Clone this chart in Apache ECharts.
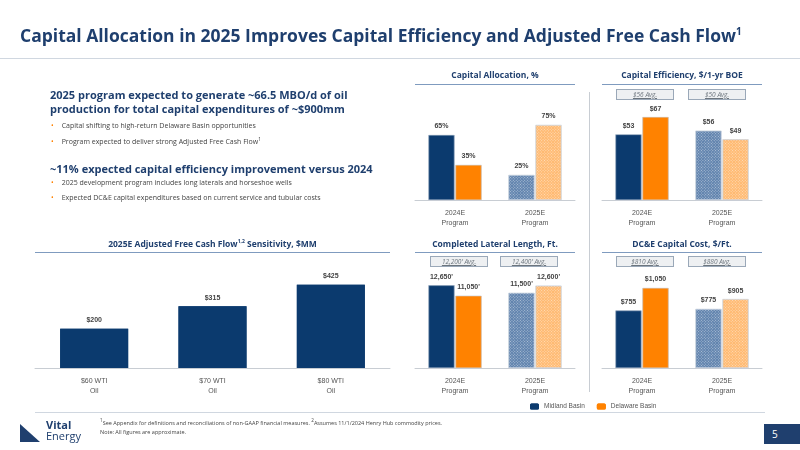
<!DOCTYPE html>
<html><head><meta charset="utf-8">
<script src="https://cdn.jsdelivr.net/npm/echarts@6/dist/echarts.min.js"></script>
<style>
body{margin:0;width:800px;height:450px;position:relative;font-family:"Open Sans","Noto Sans",sans-serif;background:#fff;overflow:hidden}
#c{position:absolute;left:0;top:0;width:800px;height:450px}
.t{position:absolute;white-space:nowrap}
.h{color:#1f3f6e;font-weight:bold}
.ct{font-size:8.5px;font-weight:bold;color:#1f3f6e;text-align:center}
.ln{position:absolute;height:1px;background:#7f9bbf}
.avg{position:absolute;border:1px solid #9aa8b8;background:#eef0f2;font-size:6.5px;font-style:italic;text-decoration:underline;color:#6c757d;text-align:center;height:9px;line-height:9px}
.b{font-size:7px;color:#444;}
.b span{color:#ff8200;margin-right:8px}
</style></head><body>
<div id="c"></div>
<div class="t h" style="left:20px;top:23px;font-size:17.5px">Capital Allocation in 2025 Improves Capital Efficiency and Adjusted Free Cash Flow<sup style="font-size:10px">1</sup></div>
<div class="ln" style="left:0;top:58px;width:800px;background:#d0d7e0"></div>
<div class="t h" style="left:50px;top:88px;font-size:11px;line-height:14px">2025 program expected to generate ~66.5 MBO/d of oil<br>production for total capital expenditures of ~$900mm</div>
<div class="t b" style="left:51px;top:121px"><span>•</span>Capital shifting to high-return Delaware Basin opportunities</div>
<div class="t b" style="left:51px;top:136px"><span>•</span>Program expected to deliver strong Adjusted Free Cash Flow<sup style="font-size:5px">1</sup></div>
<div class="t h" style="left:50px;top:161px;font-size:11px">~11% expected capital efficiency improvement versus 2024</div>
<div class="t b" style="left:51px;top:178px"><span>•</span>2025 development program includes long laterals and horseshoe wells</div>
<div class="t b" style="left:51px;top:193px"><span>•</span>Expected DC&amp;E capital expenditures based on current service and tubular costs</div>

<div class="t ct" style="left:415px;top:69px;width:160px">Capital Allocation, %</div>
<div class="ln" style="left:415px;top:84px;width:160px"></div>
<div class="t ct" style="left:602px;top:69px;width:160px">Capital Efficiency, $/1-yr BOE</div>
<div class="ln" style="left:602px;top:84px;width:160px"></div>
<div class="avg" style="left:616px;top:89px;width:56px">$56 Avg.</div>
<div class="avg" style="left:688px;top:89px;width:56px">$50 Avg.</div>

<div class="t ct" style="left:35px;top:238px;width:355px">2025E Adjusted Free Cash Flow<sup style="font-size:5px">1,2</sup> Sensitivity, $MM</div>
<div class="ln" style="left:35px;top:252px;width:355px"></div>
<div class="t ct" style="left:415px;top:238px;width:160px">Completed Lateral Length, Ft.</div>
<div class="ln" style="left:415px;top:252px;width:160px"></div>
<div class="avg" style="left:430px;top:256px;width:56px">12,200' Avg.</div>
<div class="avg" style="left:500px;top:256px;width:56px">12,400' Avg.</div>
<div class="t ct" style="left:602px;top:238px;width:160px">DC&amp;E Capital Cost, $/Ft.</div>
<div class="ln" style="left:602px;top:252px;width:160px"></div>
<div class="avg" style="left:616px;top:256px;width:56px">$810 Avg.</div>
<div class="avg" style="left:688px;top:256px;width:56px">$880 Avg.</div>

<div style="position:absolute;left:589px;top:92px;width:1px;height:300px;background:#c8cdd3"></div>
<div class="ln" style="left:35px;top:412px;width:730px;background:#d0d7e0"></div>
<div class="t" style="left:100px;top:416px;font-size:5.5px;color:#444;line-height:9px"><sup>1</sup>See Appendix for definitions and reconciliations of non-GAAP financial measures. <sup>2</sup>Assumes 11/1/2024 Henry Hub commodity prices.<br>Note: All figures are approximate.</div>
<div style="position:absolute;left:20px;top:424px;width:0;height:0;border-top:18px solid transparent;border-left:20px solid #1f3f6e"></div>
<div class="t" style="left:46px;top:419px;font-size:11px;line-height:11px;color:#1f3f6e;font-weight:bold">Vital<br><span style="font-weight:normal">Energy</span></div>
<div style="position:absolute;left:764px;top:424px;width:36px;height:20px;background:#1f3f6e;color:#fff;font-size:10px;line-height:20px;padding-left:8px;box-sizing:border-box">5</div>

<script>
var progCats = ['2024E\nProgram', '2025E\nProgram'];
var wtiCats = ['$60 WTI\nOil', '$70 WTI\nOil', '$80 WTI\nOil'];
var allocMidland = [65, 25], allocDelaware = [35, 75];
var effMidland = [53, 56], effDelaware = [67, 49];
var fcfValues = [200, 315, 425];
var latMidland = [12650, 11500], latDelaware = [11050, 12600];
var costMidland = [755, 775], costDelaware = [1050, 905];

var navy = '#0b3a6e', orange = '#ff8200';
var chart = echarts.init(document.getElementById('c'));

var grids = [
  { left: 415, width: 160, top: 100, height: 100 },
  { left: 602, width: 160, top: 101, height: 99 },
  { left: 35, width: 355, top: 270, height: 98 },
  { left: 415, width: 160, top: 270, height: 98 },
  { left: 602, width: 160, top: 269, height: 99 }
];
var maxes = [100, 80, 500, 15000, 1300];
var hatch = { symbol: 'rect', symbolSize: 1, color: 'rgba(255,255,255,0.5)', dashArrayX: [1, 1], dashArrayY: [1, 1], rotation: Math.PI / 4 };
function solid(c) { return { symbol: 'rect', symbolSize: 1, color: c, dashArrayX: [1, 0], dashArrayY: [1, 0] }; }

function styled(vals, base, light) {
  return vals.map(function (v, i) {
    var d = { value: v, itemStyle: { color: base, borderColor: '#c9d3df', borderWidth: 0.5, decal: solid(base) } };
    if (i === 1) {
      d.itemStyle.color = light;
      d.itemStyle.decal = hatch;
    }
    return d;
  });
}
var lbl = function (fmt) {
  return { show: true, position: 'top', fontSize: 7, fontWeight: 'bold', color: '#444', formatter: function (p) { return fmt(p.value); } };
};
var pct = function (v) { return v + '%'; };
var usd = function (v) { return '$' + v.toLocaleString('en-US'); };
var ft = function (v) { return v.toLocaleString('en-US') + "'"; };

var xAxes = [], yAxes = [], series = [];
grids.forEach(function (g, i) {
  xAxes.push({ type: 'category', gridIndex: i, data: i === 2 ? wtiCats : progCats,
    axisLine: { lineStyle: { color: '#c8cdd3' } }, axisTick: { show: false },
    axisLabel: { fontSize: 7, color: '#555', lineHeight: 10, margin: 8 } });
  yAxes.push({ type: 'value', gridIndex: i, min: 0, max: maxes[i], show: false, splitLine: { show: false } });
});
var pairs = [[allocMidland, allocDelaware, pct], [effMidland, effDelaware, usd], null, [latMidland, latDelaware, ft], [costMidland, costDelaware, usd]];
pairs.forEach(function (p, i) {
  if (!p) return;
  series.push({ name: 'Midland Basin', type: 'bar', xAxisIndex: i, yAxisIndex: i, barWidth: 26, barGap: '4%',
    itemStyle: { color: navy, decal: solid(navy) }, data: styled(p[0], navy, '#5f82ad'), label: lbl(p[2]) });
  series.push({ name: 'Delaware Basin', type: 'bar', xAxisIndex: i, yAxisIndex: i, barWidth: 26, barGap: '4%',
    itemStyle: { color: orange, decal: solid(orange) }, data: styled(p[1], orange, '#ffb970'), label: lbl(p[2]) });
});
series.push({ type: 'bar', xAxisIndex: 2, yAxisIndex: 2, barWidth: 68,
  itemStyle: { color: navy, decal: solid(navy) }, data: fcfValues, label: lbl(usd) });

chart.setOption({
  animation: false,
  aria: { enabled: true, decal: { show: true } },
  grid: grids, xAxis: xAxes, yAxis: yAxes, series: series,
  legend: { data: ['Midland Basin', 'Delaware Basin'],
    left: 525, top: 398, itemWidth: 9, itemHeight: 6, itemGap: 12, textStyle: { fontSize: 6.5, color: '#555' } }
});
</script>
</body></html>
